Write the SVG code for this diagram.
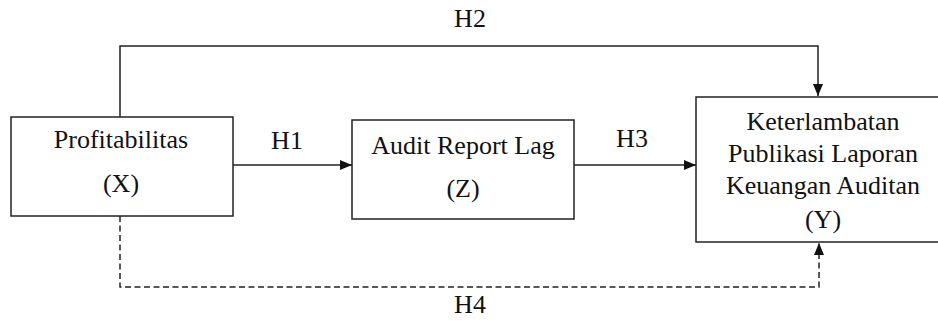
<svg xmlns="http://www.w3.org/2000/svg" width="938" height="321" viewBox="0 0 938 321">
<style>
.box{fill:#fff;stroke:#222;stroke-width:1.5}
.ln{fill:none;stroke:#222;stroke-width:1.5}
.dash{stroke-dasharray:6 3.5}
text{font-family:"Liberation Serif","Times New Roman",serif;font-size:26px;fill:#111;text-anchor:middle}
</style>
<defs>
<marker id="ah" viewBox="0 0 12 12" refX="12" refY="6" markerWidth="12" markerHeight="12" markerUnits="userSpaceOnUse" orient="auto">
<path d="M0,1 L12,6 L0,11 Z" fill="#111"/>
</marker>
</defs>
<rect width="938" height="321" fill="#fff"/>
<g id="connectors">
<path class="ln" d="M120,117 V46 H818 V96" marker-end="url(#ah)"/>
<path class="ln" d="M233,165 H352" marker-end="url(#ah)"/>
<path class="ln" d="M574,165 H696" marker-end="url(#ah)"/>
<path class="ln dash" d="M120,216 V287 H819 V243" marker-end="url(#ah)"/>
<text x="470" y="27">H2</text>
<text x="287" y="149">H1</text>
<text x="632" y="147">H3</text>
<text x="470" y="313">H4</text>
</g>
<g id="nodeX">
<rect class="box" x="11" y="117" width="222" height="99"/>
<text x="121" y="148">Profitabilitas</text>
<text x="121" y="192">(X)</text>
</g>
<g id="nodeZ">
<rect class="box" x="352" y="120" width="222" height="99"/>
<text x="463" y="154">Audit Report Lag</text>
<text x="463" y="197">(Z)</text>
</g>
<g id="nodeY">
<rect class="box" x="696" y="97" width="250" height="145"/>
<text x="823" y="130">Keterlambatan</text>
<text x="823" y="162">Publikasi Laporan</text>
<text x="823" y="194">Keuangan Auditan</text>
<text x="823" y="228">(Y)</text>
</g>
</svg>
